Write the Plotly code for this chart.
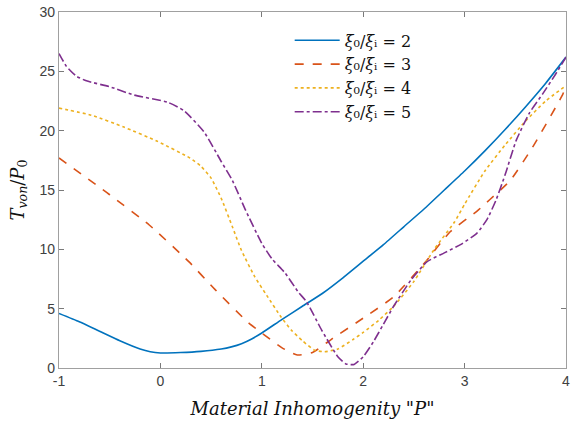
import plotly.graph_objects as go

# Data
x_r2 = [-1, -0.8, -0.6, -0.4, -0.2, -0.1, 0, 0.2, 0.4, 0.6, 0.7, 0.8, 0.9, 1.0, 1.2, 1.4, 1.6, 1.8, 2.0, 2.2, 2.4, 2.6, 2.8, 3.0, 3.2, 3.4, 3.6, 3.8, 4.0]
y_r2 = [4.6, 3.9, 3.1, 2.3, 1.6, 1.37, 1.27, 1.3, 1.4, 1.6, 1.78, 2.05, 2.45, 2.95, 4.1, 5.2, 6.3, 7.6, 9.0, 10.4, 11.9, 13.4, 15.0, 16.6, 18.3, 20.1, 22.0, 24.0, 26.2]

x_r3 = [-1, -0.5, -0.11, 0.28, 0.54, 0.87, 1.0, 1.2, 1.35, 1.5, 1.7, 2.0, 2.3, 2.6, 2.86, 3.12, 3.25, 3.45, 3.67, 3.97, 4.0]
y_r3 = [17.7, 14.6, 12.05, 8.96, 6.6, 3.8, 2.95, 1.7, 1.1, 1.3, 2.5, 4.2, 6.0, 8.8, 11.5, 13.2, 14.2, 15.8, 18.6, 23.1, 23.8]

x_r4 = [-1, -0.68, -0.36, -0.03, 0.29, 0.4, 0.5, 0.6, 0.71, 0.8, 0.93, 1.05, 1.19, 1.29, 1.4, 1.52, 1.62, 1.75, 1.9, 2.0, 2.15, 2.3, 2.5, 2.7, 2.9, 3.0, 3.2, 3.4, 3.6, 3.8, 4.0]
y_r4 = [21.9, 21.3, 20.3, 19.1, 17.7, 17.0, 16.0, 14.3, 11.9, 9.9, 7.7, 6.1, 4.3, 3.2, 2.3, 1.5, 1.37, 1.6, 2.4, 3.0, 4.0, 5.2, 7.3, 10.0, 12.3, 13.8, 16.6, 18.8, 20.8, 22.5, 23.8]

x_r5 = [-1, -0.925, -0.83, -0.73, -0.5, -0.26, 0.07, 0.23, 0.43, 0.6, 0.71, 0.84, 1.0, 1.1, 1.23, 1.36, 1.44, 1.59, 1.75, 1.83, 1.91, 2.0, 2.1, 2.2, 2.3, 2.47, 2.63, 2.8, 2.96, 3.12, 3.22, 3.31, 3.4, 3.51, 3.64, 3.77, 3.9, 4.0]
y_r5 = [26.5, 25.4, 24.6, 24.2, 23.7, 23.0, 22.4, 21.7, 19.9, 17.4, 15.8, 13.3, 10.5, 9.2, 8.0, 6.4, 5.6, 3.2, 0.95, 0.34, 0.3, 0.95, 2.2, 3.7, 5.2, 7.4, 8.96, 9.7, 10.4, 11.35, 12.5, 14.15, 16.3, 19.2, 21.5, 23.1, 24.8, 26.2]

series_names = ["<i>ξ</i>₀/<i>ξ</i>ᵢ = 2",
                "<i>ξ</i>₀/<i>ξ</i>ᵢ = 3",
                "<i>ξ</i>₀/<i>ξ</i>ᵢ = 4",
                "<i>ξ</i>₀/<i>ξ</i>ᵢ = 5"]

x_ticks = [-1, 0, 1, 2, 3, 4]
x_ticktext = ["-1", "0", "1", "2", "3", "4"]
y_ticks = [0, 5, 10, 15, 20, 25, 30]

colors = ["#0072BD", "#D95319", "#EDB120", "#7E2F8E"]
dashes = ["solid", "dash", "dot", "dashdot"]

fig = go.Figure()
for xs, ys, name, c, d in zip([x_r2, x_r3, x_r4, x_r5], [y_r2, y_r3, y_r4, y_r5],
                              series_names, colors, dashes):
    fig.add_trace(go.Scatter(x=xs, y=ys, mode="lines", name=name,
                             line=dict(color=c, width=1.6, dash=d, shape="spline", smoothing=0.5)))

axis_common = dict(showgrid=False, zeroline=False, showline=True, linecolor="#a0a0a0", linewidth=1.2,
                   mirror="ticks", ticks="inside", ticklen=5, tickcolor="#7a7a7a",
                   ticklabeloverflow="allow",
                   tickfont=dict(family="Liberation Sans, Arial", size=14, color="#404040"))

fig.update_layout(
    width=571, height=423,
    margin=dict(l=59, r=1, t=12, b=55),
    paper_bgcolor="white", plot_bgcolor="white",
    showlegend=True,
    legend=dict(x=0.455, y=0.968, xanchor="left", yanchor="top",
                bgcolor="rgba(0,0,0,0)", borderwidth=0, itemwidth=45,
                font=dict(family="DejaVu Serif", size=16, color="#111111"),
                tracegroupgap=0),
    xaxis=dict(range=[-1, 4], tickvals=x_ticks, ticktext=x_ticktext,
               title=dict(text="<i>Material Inhomogenity \"P\"</i>", standoff=14,
                          font=dict(family="DejaVu Serif", size=18, color="#111111")),
               **axis_common),
    yaxis=dict(range=[0, 30], tickvals=y_ticks,
               title=dict(text="<i>T<sub>von</sub></i>/<i>P</i><sub>0</sub>", standoff=10,
                          font=dict(family="DejaVu Serif", size=18, color="#111111")),
               **axis_common),
)

fig.write_html("out.html")
